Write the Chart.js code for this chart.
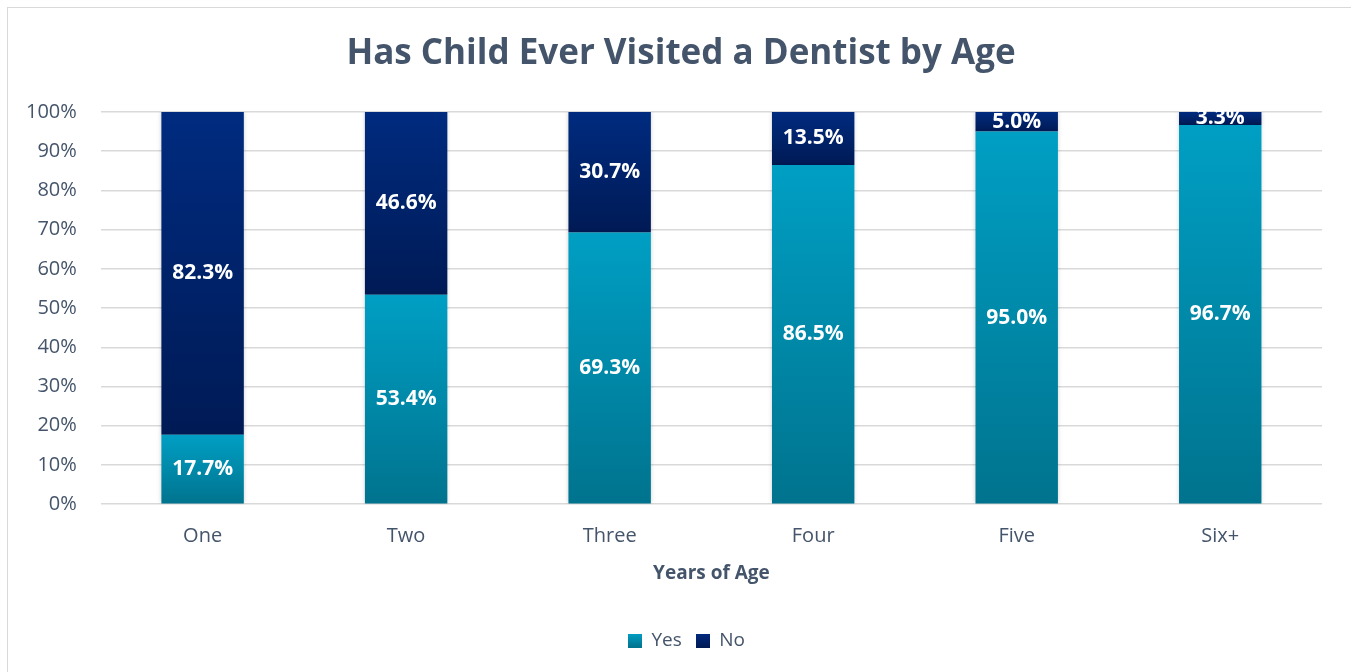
<!DOCTYPE html>
<html>
<head>
<meta charset="utf-8">
<script src="https://cdn.jsdelivr.net/npm/chart.js@4"></script>
<style>
  body { margin: 0; background: #fff; }
  #wrap { position: relative; width: 1351px; height: 672px; }
  #frame { position: absolute; left: 7px; top: 7px; width: 1400px; height: 700px; border: 1px solid #D9D9D9; box-sizing: border-box; }
  canvas { position: absolute; left: 0; top: 0; }
</style>
</head>
<body>
<div id="wrap">
  <div id="frame"></div>
  <canvas id="chart" width="1351" height="672"></canvas>
</div>
<script>
var ages = ['One', 'Two', 'Three', 'Four', 'Five', 'Six+']
var yes = [17.7, 53.4, 69.3, 86.5, 95.0, 96.7]
var no = [82.3, 46.6, 30.7, 13.5, 5.0, 3.3]
var yTicks = [0, 10, 20, 30, 40, 50, 60, 70, 80, 90, 100]

var slate = '#44546A'
var font = "'Open Sans', sans-serif"

// vertical gradient per bar segment, like the spreadsheet fill
function segmentFill(top, bottom, startOf) {
    return function (ctx) {
        var chart = ctx.chart
        if (!chart.chartArea || !chart.scales.y) return top
        var i = ctx.dataIndex
        var start = startOf(i)
        var end = start + ctx.dataset.data[i]
        var y = chart.scales.y
        var g = chart.ctx.createLinearGradient(0, y.getPixelForValue(end), 0, y.getPixelForValue(start))
        g.addColorStop(0, top)
        g.addColorStop(1, bottom)
        return g
    }
}

function legendFill(top, bottom) {
    var c = document.createElement('canvas')
    c.width = 14
    c.height = 14
    var x = c.getContext('2d')
    var g = x.createLinearGradient(0, 0, 0, 14)
    g.addColorStop(0, top)
    g.addColorStop(1, bottom)
    x.fillStyle = g
    x.fillRect(0, 0, 14, 14)
    return c
}

var barLabels = {
    id: 'barLabels',
    afterDatasetsDraw: function (chart) {
        var c = chart.ctx
        c.save()
        c.fillStyle = '#fff'
        c.font = "bold 21px " + font
        c.textAlign = 'center'
        c.textBaseline = 'middle'
        chart.data.datasets.forEach(function (ds, d) {
            chart.getDatasetMeta(d).data.forEach(function (bar, i) {
                var mid = (bar.y + bar.base) / 2
                c.fillText(ds.data[i].toFixed(1) + '%', bar.x, mid)
            })
        })
        c.restore()
    }
}

var barShadow = {
    id: 'barShadow',
    beforeDatasetsDraw: function (chart) {
        var c = chart.ctx
        c.save()
        c.shadowColor = 'rgba(0,0,0,0.18)'
        c.shadowBlur = 4
    },
    afterDatasetsDraw: function (chart) {
        chart.ctx.restore()
    }
}

// centre title and legend on the whole frame rather than the padded box
var centreBlocks = {
    id: 'centreBlocks',
    afterLayout: function (chart) {
        var t = chart.titleBlock
        if (t) {
            t.left = 10
            t.right = 1352
            t.width = t.right - t.left
        }
        var l = chart.legend
        if (l) {
            l.left = 22
            l.right = 1351
            l.width = l.right - l.left
        }
    }
}

new Chart(document.getElementById('chart'), {
    type: 'bar',
    data: {
        labels: ages,
        datasets: [{
            label: 'Yes',
            data: yes,
            backgroundColor: segmentFill('#009FC4', '#00738E', function () { return 0 }),
            categoryPercentage: 1,
            barPercentage: 0.405
        }, {
            label: 'No',
            data: no,
            backgroundColor: segmentFill('#002B7F', '#001A55', function (i) { return yes[i] }),
            categoryPercentage: 1,
            barPercentage: 0.405
        }]
    },
    options: {
        responsive: false,
        animation: false,
        layout: { padding: { left: 2, right: 29, top: 12, bottom: 12 } },
        scales: {
            x: {
                stacked: true,
                grid: { display: false },
                border: { display: false },
                ticks: { color: slate, font: { family: font, size: 20 }, padding: 12 },
                title: { display: true, text: 'Years of Age', color: slate, font: { family: font, size: 19, weight: 'bold' }, padding: { top: 2, bottom: 32 } }
            },
            y: {
                stacked: true,
                min: 0,
                max: 100,
                afterBuildTicks: function (axis) {
                    axis.ticks = yTicks.map(function (v) { return { value: v } })
                },
                grid: { color: '#D9D9D9', lineWidth: 1.5, drawTicks: false },
                border: { display: false },
                ticks: {
                    color: slate,
                    font: { family: font, size: 20 },
                    padding: 24,
                    callback: function (v) { return v + '%' }
                }
            }
        },
        plugins: {
            title: {
                display: true,
                text: 'Has Child Ever Visited a Dentist by Age',
                color: slate,
                font: { family: font, size: 35, weight: 'bold' },
                padding: { top: 21, bottom: 37 }
            },
            legend: {
                position: 'bottom',
                labels: {
                    color: slate,
                    font: { family: font, size: 19 },
                    boxWidth: 14,
                    boxHeight: 14,
                    padding: 14,
                    generateLabels: function (chart) {
                        return [
                            { text: 'Yes', pointStyle: legendFill('#009FC4', '#00738E'), fontColor: slate, datasetIndex: 0, lineWidth: 0 },
                            { text: 'No', pointStyle: legendFill('#002B7F', '#001A55'), fontColor: slate, datasetIndex: 1, lineWidth: 0 }
                        ]
                    },
                    usePointStyle: true
                }
            },
            tooltip: { enabled: false }
        }
    },
    plugins: [barShadow, barLabels, centreBlocks]
})
</script>
</body>
</html>
